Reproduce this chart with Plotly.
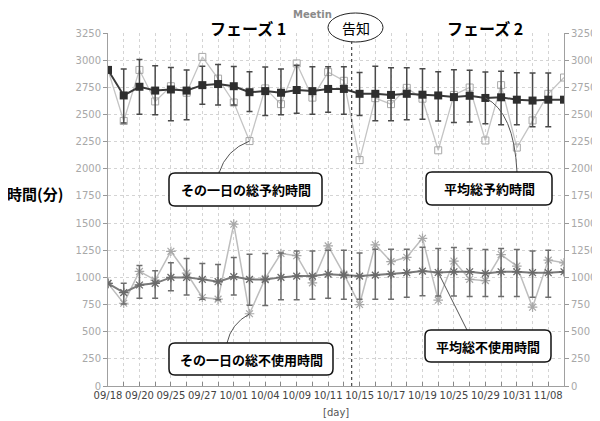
import plotly.graph_objects as go

# ---------------- data ----------------
tick_labels = ["09/18", "09/20", "09/25", "09/27", "10/01", "10/04", "10/09", "10/11",
               "10/15", "10/17", "10/19", "10/25", "10/29", "10/31", "11/08"]
n_points = 30
x_idx = list(range(n_points))

# daily total reserved time (light gray, open squares)
daily_reserved = [2910, 2440, 2910, 2620, 2760, 2700, 3030, 2830, 2610, 2255,
                  2740, 2595, 2970, 2655, 2890, 2810, 2080, 2650, 2595, 2745,
                  2645, 2170, 2680, 2748, 2260, 2770, 2195, 2445, 2690, 2840]
# average total reserved time (black squares, error bars)
avg_reserved = [2910, 2675, 2755, 2720, 2730, 2720, 2770, 2780, 2760, 2705,
                2715, 2700, 2725, 2715, 2735, 2735, 2690, 2690, 2680, 2690,
                2682, 2675, 2660, 2672, 2652, 2658, 2636, 2628, 2636, 2636]
avg_reserved_hi = [2910, 2918, 3005, 2948, 2933, 2909, 2945, 2960, 2942, 2893,
                   2936, 2918, 2954, 2939, 2939, 2939, 2887, 2945, 2930, 2930,
                   2922, 2893, 2912, 2908, 2892, 2898, 2885, 2882, 2882, 2636]
avg_reserved_lo = [2910, 2421, 2503, 2497, 2442, 2451, 2595, 2588, 2588, 2527,
                   2491, 2497, 2512, 2503, 2521, 2503, 2491, 2442, 2442, 2451,
                   2455, 2440, 2425, 2430, 2415, 2405, 2405, 2387, 2387, 2636]
# daily total unused time (light gray stars)
daily_unused = [945, 762, 1055, 975, 1240, 1040, 815, 800, 1490, 665,
                990, 1220, 1200, 950, 1290, 1030, 750, 1300, 1145, 1185,
                1360, 790, 1150, 982, 970, 1210, 1104, 726, 1159, 1134]
# average total unused time (gray stars, error bars)
avg_unused = [945, 860, 930, 945, 1000, 1000, 982, 960, 1006, 982,
              980, 1000, 1012, 1012, 1030, 1021, 1012, 1021, 1030, 1043,
              1058, 1045, 1052, 1052, 1037, 1052, 1052, 1043, 1043, 1052]
avg_unused_hi = [945, 945, 1110, 1061, 1134, 1174, 1128, 1119, 1183, 1213,
                 1220, 1225, 1244, 1244, 1250, 1250, 1225, 1259, 1259, 1259,
                 1277, 1265, 1274, 1265, 1256, 1265, 1256, 1244, 1250, 1052]
avg_unused_lo = [945, 756, 808, 808, 878, 838, 799, 793, 838, 744,
                 741, 793, 793, 799, 808, 799, 799, 799, 799, 817,
                 830, 829, 829, 823, 823, 823, 823, 817, 817, 1052]

announce_pos = 15.5
y_max = 3250

# ---------------- geometry helpers (page pixels -> refs) ----------------
OFF = 8  # page body margin offset
PL, PT, PW, PH = 108, 33, 456, 353
X_MAX = n_points - 1
def dx(px): return (px - PL) / PW * X_MAX
def dy(py): return (PT + PH - py) / PH * y_max
def ppx(px): return (px - PL) / PW
def ppy(py): return (PT + PH - py) / PH

JP = "Noto Sans CJK JP"
LAT = "DejaVu Sans"

ticktext = []
for i in range(n_points):
    ticktext.append(tick_labels[i // 2] if i % 2 == 0 else "")

fig = go.Figure()

def errs(mean, hi, lo):
    return [h - m for h, m in zip(hi, mean)], [m - l for m, l in zip(mean, lo)]

fig.add_trace(go.Scatter(
    x=x_idx, y=daily_reserved, mode="lines+markers",
    line=dict(color="#c4c4c4", width=1.3),
    marker=dict(symbol="square-open", size=7, color="#a8a8a8", line=dict(width=1)),
    showlegend=False))

fig.add_trace(go.Scatter(
    x=x_idx, y=daily_unused, mode="lines+markers",
    line=dict(color="#bdbdbd", width=1.5),
    marker=dict(symbol="asterisk-open", size=8, color="#a8a8a8",
                line=dict(width=1.2, color="#a8a8a8")),
    showlegend=False))

up, dn = errs(avg_unused, avg_unused_hi, avg_unused_lo)
fig.add_trace(go.Scatter(
    x=x_idx, y=avg_unused, mode="lines+markers",
    line=dict(color="#7a7a7a", width=2),
    marker=dict(symbol="asterisk-open", size=8, color="#6a6a6a",
                line=dict(width=1.3, color="#6a6a6a")),
    error_y=dict(type="data", symmetric=False, array=up, arrayminus=dn,
                 color="#6e6e6e", thickness=1.5, width=3),
    showlegend=False))

up, dn = errs(avg_reserved, avg_reserved_hi, avg_reserved_lo)
fig.add_trace(go.Scatter(
    x=x_idx, y=avg_reserved, mode="lines+markers",
    line=dict(color="#3a3a3a", width=2),
    marker=dict(symbol="square", size=8, color="#2e2e2e"),
    error_y=dict(type="data", symmetric=False, array=up, arrayminus=dn,
                 color="#4a4a4a", thickness=1.5, width=3),
    showlegend=False))

shapes = []
shapes.append(dict(type="line", xref="x", yref="y", x0=announce_pos, x1=announce_pos,
                   y0=0, y1=y_max, line=dict(color="#222", width=1, dash="dot"), layer="above"))

def rrect(x0, y0, x1, y1, r=6):
    pts = [("M", x0 + r, y0), ("L", x1 - r, y0), ("Q", x1, y0, x1, y0 + r),
           ("L", x1, y1 - r), ("Q", x1, y1, x1 - r, y1), ("L", x0 + r, y1),
           ("Q", x0, y1, x0, y1 - r), ("L", x0, y0 + r), ("Q", x0, y0, x0 + r, y0)]
    s = ""
    for p in pts:
        coords = p[1:]
        parts = [f"{ppx(coords[k]):.5f},{ppy(coords[k+1]):.5f}" for k in range(0, len(coords), 2)]
        s += p[0] + " " + " ".join(parts) + " "
    return s + "Z"

boxes = [
    (169, 173, 322, 206, "その一日の総予約時間"),
    (426, 172, 552, 205, "平均総予約時間"),
    (169, 343, 333, 375, "その一日の総不使用時間"),
    (425, 330, 551, 362, "平均総不使用時間"),
]

def qpath(p0, c, p1):
    return f"M {p0[0]:.4f},{p0[1]:.2f} Q {c[0]:.4f},{c[1]:.2f} {p1[0]:.4f},{p1[1]:.2f}"

conn = [
    qpath((dx(219), dy(173)), (dx(226), dy(150)), (9, daily_reserved[9])),
    qpath((24, avg_reserved[24]), (dx(514), dy(112)), (dx(517), dy(172))),
    qpath((dx(227), dy(343)), (dx(231), dy(324)), (9, daily_unused[9])),
    f"M {dx(467):.4f},{dy(330):.2f} L 21,{avg_unused[21]}",
]
for p in conn:
    shapes.append(dict(type="path", xref="x", yref="y", path=p,
                       line=dict(color="#555", width=1), layer="above"))

for (x0, y0, x1, y1, t) in boxes:
    shapes.append(dict(type="path", xref="paper", yref="paper", path=rrect(x0, y0, x1, y1),
                       fillcolor="white", line=dict(color="#111", width=1.5), layer="above"))

shapes.append(dict(type="circle", xref="paper", yref="paper",
                   x0=ppx(328), x1=ppx(383), y0=ppy(42), y1=ppy(13),
                   fillcolor="white", line=dict(color="#222", width=1), layer="above"))

def ann(px, py, text, font, xanchor="center"):
    return dict(xref="paper", yref="paper", x=ppx(px), y=ppy(py), xanchor=xanchor,
                yanchor="middle", text=text, showarrow=False, font=font)

annotations = []
for (x0, y0, x1, y1, t) in boxes:
    annotations.append(ann((x0 + x1) / 2, (y0 + y1) / 2, f"<b>{t}</b>",
                           dict(family=JP, size=13, color="#000")))

annotations += [
    ann(334, 14, "<b>Meetin</b>", dict(family=LAT, size=10, color="#8a8a8a"), xanchor="right"),
    ann(355.5, 27.5, "告知", dict(family=JP, size=14, color="#000")),
    ann(248, 28, "<b>フェーズ 1</b>", dict(family=JP, size=16, color="#000")),
    ann(485, 28, "<b>フェーズ 2</b>", dict(family=JP, size=16, color="#000")),
    ann(35, 194, "<b>時間(分)</b>", dict(family=JP, size=15, color="#000")),
    ann(336, 412, "[day]", dict(family=LAT, size=10, color="#555")),
]

fig.update_layout(
    width=600, height=421,
    margin=dict(l=PL - OFF, r=600 - (PL - OFF) - PW, t=PT - OFF, b=421 - (PT - OFF) - PH,
                autoexpand=False),
    paper_bgcolor="white", plot_bgcolor="white",
    shapes=shapes, annotations=annotations,
    xaxis=dict(range=[0, X_MAX], tickmode="array", tickvals=x_idx, ticktext=ticktext,
               ticks="inside", ticklen=4, tickcolor="#888",
               showline=True, linecolor="#a0a0a0", linewidth=1,
               showgrid=True, gridcolor="#d4d4d4", griddash="dot", gridwidth=1,
               zeroline=False, tickangle=0,
               tickfont=dict(family=LAT, size=10, color="#444")),
    yaxis=dict(range=[0, y_max], dtick=250, ticks="outside", ticklen=4, tickcolor="#999",
               showline=True, linecolor="#a0a0a0", linewidth=1,
               showgrid=True, gridcolor="#d4d4d4", griddash="dot", gridwidth=1,
               zeroline=False, tickfont=dict(family=LAT, size=10, color="#a8a8a8")),
    yaxis2=dict(range=[0, y_max], dtick=250, overlaying="y", side="right",
                ticks="outside", ticklen=4, tickcolor="#999",
                showline=True, linecolor="#a0a0a0", linewidth=1, showgrid=False,
                zeroline=False, tickfont=dict(family=LAT, size=10, color="#a8a8a8")),
)

fig.add_trace(go.Scatter(x=[0], y=[0], yaxis="y2", mode="markers",
                         marker=dict(opacity=0), showlegend=False, hoverinfo="skip"))

fig.write_html("out.html")
